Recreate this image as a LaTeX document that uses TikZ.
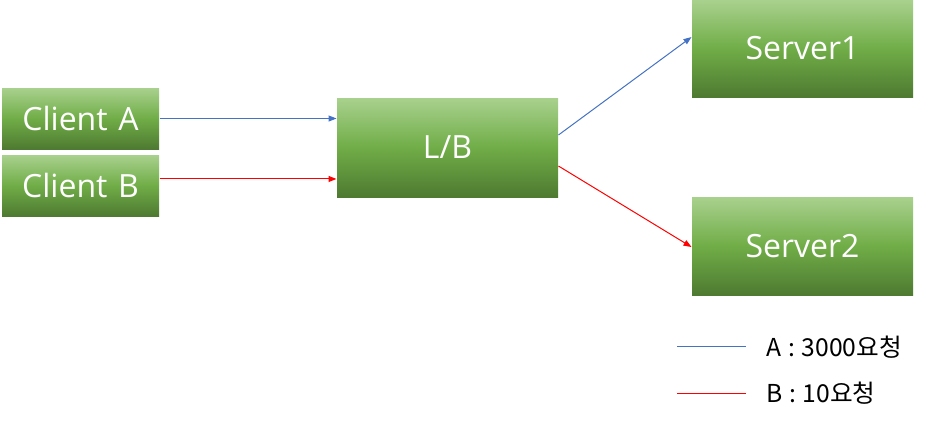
\documentclass[tikz,border=0pt]{standalone}
\usepackage{fontspec}
\setmainfont{Open Sans}
\newfontfamily\kr{Noto Sans CJK KR}
\usetikzlibrary{arrows.meta}
\definecolor{gtop}{HTML}{A9D18E}
\definecolor{gmid}{HTML}{70AD47}
\definecolor{gbot}{HTML}{4E7A31}
\definecolor{lineA}{HTML}{4472C4}
\definecolor{lineB}{HTML}{FF0000}
\begin{document}
\begin{tikzpicture}[x=0.75pt,y=-0.75pt,line width=0.75pt]
\tikzstyle{box}=[inner sep=0pt,top color=gtop,bottom color=gbot,middle color=gmid,text=white,font=\fontsize{24}{28}\selectfont];
\tikzstyle{reqa}=[draw=lineA,-{Triangle[length=6pt,width=4.5pt]},lineA];
\tikzstyle{reqb}=[draw=lineB,-{Triangle[length=6pt,width=4.5pt]},lineB];
\tikzstyle{leg}=[anchor=west,inner sep=0pt,font=\kr\fontsize{18.5}{21}\selectfont];

\useasboundingbox (0,0) rectangle (928,422);

\node [box,minimum width=117.75pt,minimum height=45.75pt] (ca) at (80.5,118.5) {Client\,\,A};
\node [box,minimum width=117.75pt,minimum height=45.75pt] (cb) at (80.5,185.5) {Client\,\,B};
\node [box,minimum width=165.75pt,minimum height=74.25pt] (lb) at (447.5,147.5) {L/B};
\node [box,minimum width=165.75pt,minimum height=72.75pt] (s1) at (802.5,48.5) {Server1};
\node [box,minimum width=165.75pt,minimum height=73.5pt] (s2) at (802.5,246) {Server2};

\coordinate (bout) at ([yshift=4.9pt]cb.east);
\draw [reqa] (ca.east) -- (ca.east -| lb.west);
\draw [reqb] (bout) -- (bout -| lb.west);
\draw [reqa] ([yshift=9.4pt]lb.east) -- ([yshift=8.6pt]s1.west);
\draw [reqb] ([yshift=-13.9pt]lb.east) -- ([yshift=-0.75pt]s2.west);

% legend
\node [leg] (la) at (766,347) {A\hspace{5pt}:\hspace{5pt}3000요청};
\node [leg] (lbb) at (766,393) {B\hspace{5pt}:\hspace{5pt}10요청};
\coordinate (a1) at (677,346);
\coordinate (b1) at (677,393);
\draw [lineA] (a1) -- ++(69,0);
\draw [lineB] (b1) -- ++(69,0);
\end{tikzpicture}
\end{document}
